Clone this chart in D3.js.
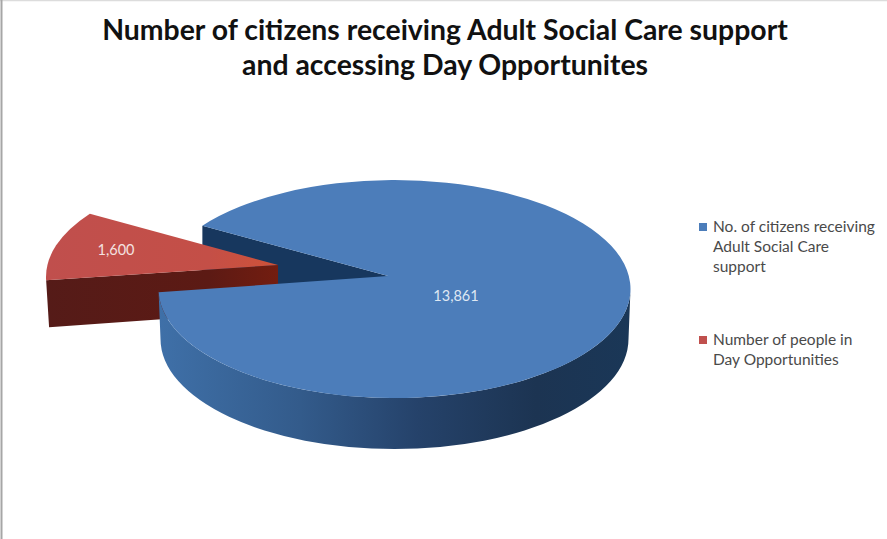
<!DOCTYPE html>
<html>
<head>
<meta charset="utf-8">
<script src="https://cdn.jsdelivr.net/npm/d3@7/dist/d3.min.js"></script>
<style>
html,body{margin:0;padding:0;background:#fff}
svg{display:block}
text{font-family:Lato,"Open Sans",sans-serif}
</style>
</head>
<body>
<svg id="chart" width="887" height="539"></svg>
<script>
const categories = ["No. of citizens receiving Adult Social Care support", "Number of people in Day Opportunities"];
const values = [13861, 1600];
const legendLines = [["No. of citizens receiving", "Adult Social Care", "support"], ["Number of people in", "Day Opportunities"]];
const titleLines = ["Number of citizens receiving Adult Social Care support", "and accessing Day Opportunites"];

const svg = d3.select("#chart");
const W = 887, H = 539;

// frame: left edge plus a faint top edge
svg.append("rect").attr("width", W).attr("height", H).attr("fill", "#fff");
svg.append("line").attr("x1", 0).attr("x2", W).attr("y1", 0.5).attr("y2", 0.5)
  .attr("stroke", "#dcdcdc").attr("stroke-width", 1.5);
svg.append("line").attr("x1", 1.5).attr("x2", 1.5).attr("y1", 0).attr("y2", H)
  .attr("stroke", "#a6a6a6").attr("stroke-width", 2);

// title
svg.append("g").selectAll("text").data(titleLines).join("text")
  .attr("x", 445).attr("y", (d, i) => 40 + i * 35)
  .attr("text-anchor", "middle").attr("font-size", 28.4).attr("font-weight", 700)
  .attr("fill", "#111").text(d => d);

// pie projection
const rx = 236, ry = 109, depth = 50;
const deg = Math.PI / 180;
const pie = d3.pie().sort(null).startAngle(305.5 * deg).endAngle(665.5 * deg);
const [blue, red] = pie(values);

const onEllipse = (c, a) => [c.x + rx * Math.sin(a), c.y - ry * Math.cos(a)];
const pt = p => p.map(v => v.toFixed(2)).join(",");

const blueC = {x: 394.5, y: 289, ax: 388, ay: 276};
const redC = {x: 282, y: 277, ax: 278, ay: 265};

function topPath(c, s) {
  const p0 = onEllipse(c, s.startAngle), p1 = onEllipse(c, s.endAngle);
  const large = s.endAngle - s.startAngle > Math.PI ? 1 : 0;
  return `M${c.ax},${c.ay}L${pt(p0)}A${rx},${ry} 0 ${large} 1 ${pt(p1)}Z`;
}

const defs = svg.append("defs");
const sideGrad = defs.append("linearGradient").attr("id", "blueSide")
  .attr("gradientUnits", "userSpaceOnUse")
  .attr("x1", blueC.x - rx).attr("x2", blueC.x + rx).attr("y1", 0).attr("y2", 0);
[[0, "#3f70a8"], [0.3, "#335b8b"], [0.55, "#25426a"], [0.8, "#1c3452"], [1, "#1a3757"]]
  .forEach(([o, c]) => sideGrad.append("stop").attr("offset", o).attr("stop-color", c));

const redGrad = defs.append("linearGradient").attr("id", "redTop")
  .attr("gradientUnits", "userSpaceOnUse")
  .attr("x1", redC.x - rx).attr("x2", redC.ax).attr("y1", 0).attr("y2", 0);
[[0, "#c04f4d"], [0.7, "#c44f47"], [1, "#cf5238"]]
  .forEach(([o, c]) => redGrad.append("stop").attr("offset", o).attr("stop-color", c));

const redWallGrad = defs.append("linearGradient").attr("id", "redWall")
  .attr("gradientUnits", "userSpaceOnUse")
  .attr("x1", redC.x - rx).attr("x2", redC.ax).attr("y1", 0).attr("y2", 0);
[[0, "#551b18"], [0.7, "#5c1a14"], [1, "#731d10"]]
  .forEach(([o, c]) => redWallGrad.append("stop").attr("offset", o).attr("stop-color", c));

// inner wall of the blue slice, seen through the gap
const b0 = onEllipse(blueC, blue.startAngle);
svg.append("path")
  .attr("d", `M${pt(b0)}L${blueC.ax},${blueC.ay}L${blueC.ax},${blueC.ay + depth}L${b0[0]},${b0[1] + depth}Z`)
  .attr("fill", "#17375e");

// front wall of the red slice
const r1 = onEllipse(redC, red.endAngle);
const r0 = onEllipse(redC, red.startAngle);
const wallEnd = r0[1] > r1[1] ? r0 : r1;
svg.append("path")
  .attr("d", `M${redC.ax},${redC.ay}L${pt(wallEnd)}L${wallEnd[0] + 3},${wallEnd[1] + 47}L${redC.ax},${redC.ay + 46}Z`)
  .attr("fill", "url(#redWall)");

// red top
svg.append("path").attr("d", topPath(redC, red)).attr("fill", "url(#redTop)");

// blue outer side
const left = [blueC.x - rx, blueC.y], right = [blueC.x + rx, blueC.y];
const insetRx = rx - 2;
svg.append("path")
  .attr("d", `M${pt(left)}A${rx},${ry} 0 0 0 ${pt(right)}L${right[0] - 2},${right[1] + depth}` +
             `A${insetRx},${ry + 1} 0 0 1 ${left[0] + 2},${left[1] + depth}Z`)
  .attr("fill", "url(#blueSide)");

// blue top
svg.append("path").attr("d", topPath(blueC, blue)).attr("fill", "#4c7dba");

// value labels
const fmt = d3.format(",");
svg.append("text").attr("x", 456).attr("y", 301).attr("text-anchor", "middle")
  .attr("font-size", 14.5).attr("fill", "#dfe8f3").text(fmt(values[0]));
svg.append("text").attr("x", 116).attr("y", 255).attr("text-anchor", "middle")
  .attr("font-size", 14.5).attr("fill", "#f4e2e0").text(fmt(values[1]));

// legend
const legendColors = ["#4c7dba", "#c0504d"];
const legendTops = [232, 345];
const legend = svg.append("g").selectAll("g").data(categories).join("g");
legend.append("rect").attr("x", 699).attr("y", (d, i) => legendTops[i] - 9)
  .attr("width", 8).attr("height", 8).attr("fill", (d, i) => legendColors[i]);
legend.each(function (d, i) {
  d3.select(this).selectAll("text").data(legendLines[i]).join("text")
    .attr("x", 713).attr("y", (t, j) => legendTops[i] + j * 20)
    .attr("font-size", 15.5).attr("fill", "#4a4a4a").text(t => t);
});
</script>
</body>
</html>
